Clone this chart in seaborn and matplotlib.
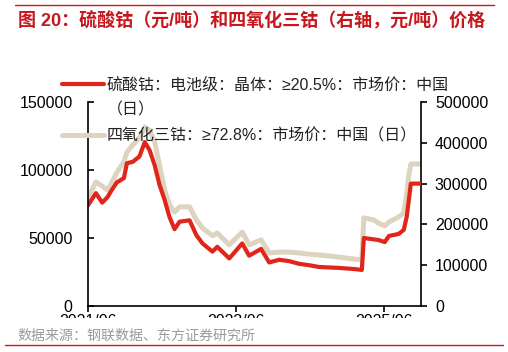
import matplotlib
matplotlib.use("Agg")
import matplotlib.pyplot as plt
from matplotlib.lines import Line2D
from matplotlib.transforms import Bbox, TransformedBbox
import seaborn as sns
import pandas as pd

dates = ["2021-06-01", "2021-07-10", "2021-08-10", "2021-09-05", "2021-09-25",
         "2021-10-22", "2021-11-25", "2021-12-10", "2022-01-08", "2022-02-10",
         "2022-03-08", "2022-04-01", "2022-04-26", "2022-05-20", "2022-06-14",
         "2022-07-08", "2022-08-02", "2022-08-27", "2022-10-15", "2022-11-18",
         "2022-12-18", "2023-02-05", "2023-03-01", "2023-04-29", "2023-07-02",
         "2023-08-05", "2023-10-03", "2023-11-12", "2023-12-31", "2024-02-18",
         "2024-04-08", "2024-05-27", "2024-07-15", "2024-10-21", "2025-01-03",
         "2025-02-11", "2025-02-21", "2025-04-11", "2025-05-05", "2025-06-04",
         "2025-06-25", "2025-08-12", "2025-09-06", "2025-09-21", "2025-10-01",
         "2025-10-11", "2025-11-30"]

cobalt_sulfate = [74000, 83000, 76000, 80000, 85000,
                  91000, 94000, 105000, 106000, 110000,
                  120500, 114500, 103500, 89000, 78000,
                  65500, 56500, 62000, 63000, 52000,
                  46000, 40000, 43500, 35000, 46000,
                  37000, 42000, 32000, 34000, 33000,
                  31000, 30000, 28700, 28000, 27200,
                  26500, 50000, 49000, 48500, 47000,
                  51500, 53000, 56000, 66000, 78000,
                  90000, 90000]

cobalt_tetroxide = [265000, 304000, 294000, 284000, 301000,
                    328000, 353000, 377000, 395000, 412000,
                    439000, 431000, 402000, 345000, 284000,
                    248000, 230000, 243000, 243000, 211000,
                    191000, 172000, 179000, 150000, 181000,
                    150000, 162000, 130000, 132000, 132000,
                    130000, 127000, 125000, 120000, 115000,
                    113000, 216000, 211000, 203000, 196000,
                    206000, 218000, 228000, 277000, 321000,
                    348000, 348000]

x_ticks = ["2021-06-01", "2023-06-01", "2025-06-01"]
x_tick_labels = ["2021/06", "2023/06", "2025/06"]
left_ticks = [0, 50000, 100000, 150000]
right_ticks = [0, 100000, 200000, 300000, 400000, 500000]

label_sulfate = "硫酸钴：电池级：晶体：≥20.5%：市场价：中国"
label_sulfate_cont = "（日）"
label_tetroxide = "四氧化三钴：≥72.8%：市场价：中国（日）"
title = "图 20：硫酸钴（元/吨）和四氧化三钴（右轴，元/吨）价格"
source = "数据来源：钢联数据、东方证券研究所"

df = pd.DataFrame({"date": pd.to_datetime(dates),
                   "sulfate": cobalt_sulfate,
                   "tetroxide": cobalt_tetroxide})

sns.set_theme(style="white")
plt.rcParams["font.family"] = ["Liberation Sans", "Noto Sans CJK SC", "DejaVu Sans"]

RED = "#E1251B"
BEIGE = "#DDD4C0"
FS = 11.5

fig = plt.figure(figsize=(5.08, 3.52), dpi=100)
ax = fig.add_axes([88 / 508, 1 - 306 / 352, (421 - 88) / 508, (306 - 102) / 352])
ax2 = ax.twinx()

sns.lineplot(data=df, x="date", y="tetroxide", ax=ax2, color=BEIGE, lw=3.6)
sns.lineplot(data=df, x="date", y="sulfate", ax=ax, color=RED, lw=3.0)

ax.set_zorder(ax2.get_zorder() + 1)
ax.patch.set_visible(False)

ax.set_xlim(pd.Timestamp("2021-06-01"), pd.Timestamp("2025-11-30"))
ax.set_ylim(0, 150000)
ax2.set_ylim(0, 500000)
ax.set_xlabel("")
ax.set_ylabel("")
ax2.set_ylabel("")

ax.set_xticks(pd.to_datetime(x_ticks))
ax.set_xticklabels(x_tick_labels)
ax.set_yticks(left_ticks)
ax.set_yticklabels([str(v) for v in left_ticks])
ax2.set_yticks(right_ticks)
ax2.set_yticklabels([str(v) for v in right_ticks])

for a in (ax, ax2):
    for s in a.spines.values():
        s.set_visible(False)
    a.grid(False)
ax.spines["left"].set_visible(True)
ax.spines["bottom"].set_visible(True)
ax2.spines["right"].set_visible(True)
for a, side in ((ax, "left"), (ax, "bottom"), (ax2, "right")):
    a.spines[side].set_color("black")
    a.spines[side].set_linewidth(1.2)

ax.tick_params(axis="y", direction="in", length=4, width=1.2, color="black",
               labelsize=FS, labelcolor="black", pad=11, left=True)
ax.tick_params(axis="x", direction="out", length=4, width=1.2, color="black",
               labelsize=FS, labelcolor="black", pad=1.5, bottom=True)
ax2.tick_params(axis="y", direction="out", length=4, width=1.2, color="black",
                labelsize=FS, labelcolor="black", pad=6, right=True)

handles = [Line2D([], [], color=RED, lw=3.0),
           Line2D([], [], color="none", lw=0),
           Line2D([], [], color=BEIGE, lw=3.6)]
leg = fig.legend(handles, [label_sulfate, label_sulfate_cont, label_tetroxide],
                 loc="upper left", bbox_to_anchor=(62 / 508, 1 - 77 / 352),
                 frameon=False, fontsize=FS, handlelength=2.6,
                 handletextpad=0.2, labelspacing=0.64, borderpad=0,
                 borderaxespad=0)
for t in leg.get_texts():
    t.set_color("#222222")

# the reference shows only the top sliver of the x tick labels
fig.canvas.draw()
clip = TransformedBbox(Bbox([[0, 1 - 318 / 352], [1, 1]]), fig.transFigure)
for lab in ax.get_xticklabels():
    lab.set_clip_box(clip)
    lab.set_clip_on(True)

fig.add_artist(Line2D([15 / 508, 494 / 508], [1 - 5 / 352, 1 - 5 / 352],
                      transform=fig.transFigure, color="#D0161E", lw=1.0, zorder=60))
fig.add_artist(Line2D([5 / 508, 503 / 508], [1 - 345 / 352, 1 - 345 / 352],
                      transform=fig.transFigure, color="#D0161E", lw=1.0, zorder=60))

fig.text(18 / 508, 1 - 21 / 352, title, color="#C8161D", fontsize=13,
         fontweight="bold", ha="left", va="center", zorder=60)
fig.text(17 / 508, 1 - 336 / 352, source, color="#9A9A9A", fontsize=10.1,
         ha="left", va="center", zorder=60)

fig.savefig("out.png", dpi=100)
